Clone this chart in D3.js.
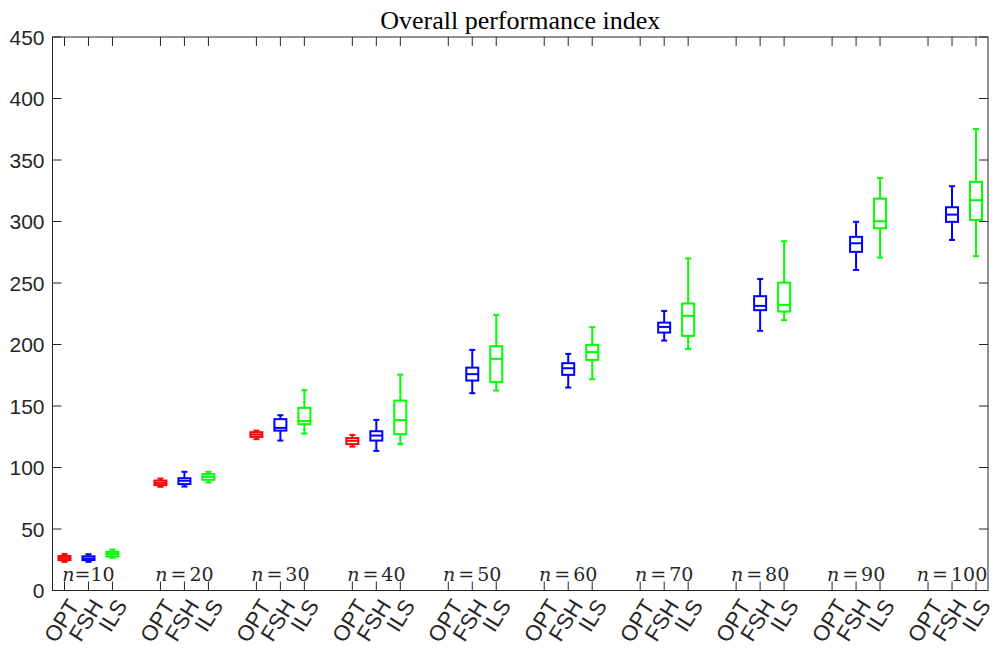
<!DOCTYPE html>
<html>
<head>
<meta charset="utf-8">
<script src="https://cdn.jsdelivr.net/npm/d3@7"></script>
<style>
  body { margin: 0; background: #fff; }
  svg { display: block; }
</style>
</head>
<body>
<div id="chart"></div>
<script>
'use strict';

// *********
// DATA
// *********

const groups = [10, 20, 30, 40, 50, 60, 70, 80, 90, 100];
const methods = ['OPT', 'FSH', 'ILS'];
const colors = ['#ff0000', '#0000ff', '#00ff00'];

// [whisker low, q1, median, q3, whisker high], null = no box
const optStats = [
  [23.3, 24.7, 26.3, 28.0, 29.6],
  [84.3, 85.7, 87.5, 89.4, 91.0],
  [123.0, 124.9, 126.8, 128.7, 130.0],
  [117.0, 119.0, 121.7, 123.9, 126.5],
  null, null, null, null, null, null
];
const fshStats = [
  [23.3, 24.7, 26.0, 27.8, 29.5],
  [84.5, 86.5, 89.2, 91.3, 96.5],
  [121.9, 130.0, 132.2, 139.3, 142.5],
  [113.5, 121.9, 126.0, 129.5, 138.7],
  [160.4, 170.7, 175.9, 181.2, 195.6],
  [165.0, 175.3, 180.7, 184.8, 192.4],
  [203.2, 209.7, 214.3, 217.8, 227.3],
  [211.1, 227.9, 231.4, 239.3, 253.3],
  [260.6, 275.3, 282.3, 287.5, 299.7],
  [285.0, 299.7, 305.6, 311.6, 328.7]
];
const ilsStats = [
  [26.6, 27.6, 29.6, 31.4, 33.3],
  [87.8, 90.0, 92.4, 94.6, 96.5],
  [127.6, 135.2, 137.9, 148.5, 162.9],
  [119.0, 127.1, 138.5, 154.4, 175.5],
  [162.6, 169.4, 188.3, 198.6, 224.1],
  [171.8, 187.5, 193.8, 199.7, 214.1],
  [196.4, 207.0, 223.3, 233.3, 270.1],
  [219.8, 226.8, 232.2, 250.3, 284.0],
  [270.6, 294.5, 300.2, 318.6, 335.4],
  [271.8, 301.3, 317.3, 332.2, 375.2]
];
const yTicks = [0, 50, 100, 150, 200, 250, 300, 350, 400, 450];

// *********
// LAYOUT
// *********

const W = 992, H = 648;
const plotL = 52.5, plotR = 988, plotT = 37, plotB = 590.5;
const axisColor = '#262626';
const tickLen = 9;

// box i of group g sits at position g*4 + i + 1 (one empty slot between groups)
const pos = (g, m) => g * 4 + m + 1;

const x = d3.scaleLinear().domain([0.5, 39.5]).range([plotL, plotR]);
const y = d3.scaleLinear().domain([0, 450]).range([plotB, plotT]);

const svg = d3.select('#chart').append('svg')
  .attr('width', W)
  .attr('height', H);

// title
svg.append('text')
  .attr('x', (plotL + plotR) / 2)
  .attr('y', 29)
  .attr('text-anchor', 'middle')
  .style('font-family', '"Liberation Serif", "Times New Roman", serif')
  .style('font-size', '26px')
  .attr('fill', '#000')
  .text('Overall performance index');

// tick positions along x
const xTickPos = [];
groups.forEach((n, g) => methods.forEach((m, i) => xTickPos.push({ p: pos(g, i), label: m })));

// frame + ticks
const frame = svg.append('g').attr('stroke', axisColor).attr('stroke-width', 1).attr('fill', 'none');
frame.append('rect')
  .attr('x', plotL).attr('y', plotT)
  .attr('width', plotR - plotL).attr('height', plotB - plotT);

frame.selectAll('line.yl')
  .data(yTicks)
  .enter()
  .append('line')
  .attr('x1', plotL).attr('x2', plotL + tickLen)
  .attr('y1', d => y(d)).attr('y2', d => y(d));
frame.selectAll('line.yr')
  .data(yTicks)
  .enter()
  .append('line')
  .attr('x1', plotR).attr('x2', plotR - tickLen)
  .attr('y1', d => y(d)).attr('y2', d => y(d));
frame.selectAll('line.xb')
  .data(xTickPos)
  .enter()
  .append('line')
  .attr('x1', d => x(d.p)).attr('x2', d => x(d.p))
  .attr('y1', plotB).attr('y2', plotB - tickLen);
frame.selectAll('line.xt')
  .data(xTickPos)
  .enter()
  .append('line')
  .attr('x1', d => x(d.p)).attr('x2', d => x(d.p))
  .attr('y1', plotT).attr('y2', plotT + tickLen);

// y tick labels
svg.append('g').selectAll('text')
  .data(yTicks)
  .enter()
  .append('text')
  .attr('x', plotL - 8)
  .attr('y', d => y(d))
  .attr('dy', '0.36em')
  .attr('text-anchor', 'end')
  .style('font-family', '"Liberation Sans", Arial, sans-serif')
  .style('font-size', '21px')
  .attr('fill', axisColor)
  .text(d => d);

// x tick labels, rotated
svg.append('g').selectAll('text')
  .data(xTickPos)
  .enter()
  .append('text')
  .attr('transform', d => `translate(${x(d.p) + 9},${plotB + 11}) rotate(-58)`)
  .attr('text-anchor', 'end')
  .attr('dy', '0.35em')
  .style('font-family', '"Liberation Sans", Arial, sans-serif')
  .style('font-size', '22px')
  .attr('fill', axisColor)
  .text(d => d.label);

// n = .. labels centred on the middle box of each group
const nLabels = svg.append('g').selectAll('text')
  .data(groups)
  .enter()
  .append('text')
  .attr('x', (d, g) => x(pos(g, 1)))
  .attr('y', 581)
  .attr('text-anchor', 'middle')
  .style('font-family', '"DejaVu Serif", "Liberation Serif", serif')
  .style('font-size', '19px')
  .attr('fill', axisColor);
nLabels.append('tspan').style('font-style', 'italic').text('n');
nLabels.append('tspan').attr('dx', d => d === 10 ? 0 : 3).text('=');
nLabels.append('tspan').attr('dx', d => d === 10 ? 0 : 3).text(d => d);

// *********
// BOXES
// *********

const boxW = x(1.25) - x(1);   // half box width
const capW = x(1.125) - x(1);  // half cap width

[optStats, fshStats, ilsStats].forEach((stats, m) => {
  const data = stats.map((s, g) => ({ s, cx: x(pos(g, m)) })).filter(d => d.s);
  const gb = svg.append('g')
    .attr('stroke', colors[m])
    .attr('stroke-width', 2)
    .attr('fill', 'none');

  // whiskers
  gb.selectAll('line.wl')
    .data(data)
    .enter()
    .append('line')
    .attr('x1', d => d.cx).attr('x2', d => d.cx)
    .attr('y1', d => y(d.s[0])).attr('y2', d => y(d.s[1]));
  gb.selectAll('line.wh')
    .data(data)
    .enter()
    .append('line')
    .attr('x1', d => d.cx).attr('x2', d => d.cx)
    .attr('y1', d => y(d.s[3])).attr('y2', d => y(d.s[4]));

  // caps
  [0, 4].forEach(k => {
    gb.selectAll('line.cap' + k)
      .data(data)
      .enter()
      .append('line')
      .attr('x1', d => d.cx - capW).attr('x2', d => d.cx + capW)
      .attr('y1', d => y(d.s[k])).attr('y2', d => y(d.s[k]));
  });

  // box
  gb.selectAll('rect')
    .data(data)
    .enter()
    .append('rect')
    .attr('x', d => d.cx - boxW)
    .attr('width', boxW * 2)
    .attr('y', d => y(d.s[3]))
    .attr('height', d => y(d.s[1]) - y(d.s[3]));

  // median
  gb.selectAll('line.med')
    .data(data)
    .enter()
    .append('line')
    .attr('x1', d => d.cx - boxW).attr('x2', d => d.cx + boxW)
    .attr('y1', d => y(d.s[2])).attr('y2', d => y(d.s[2]));
});
</script>
</body>
</html>
